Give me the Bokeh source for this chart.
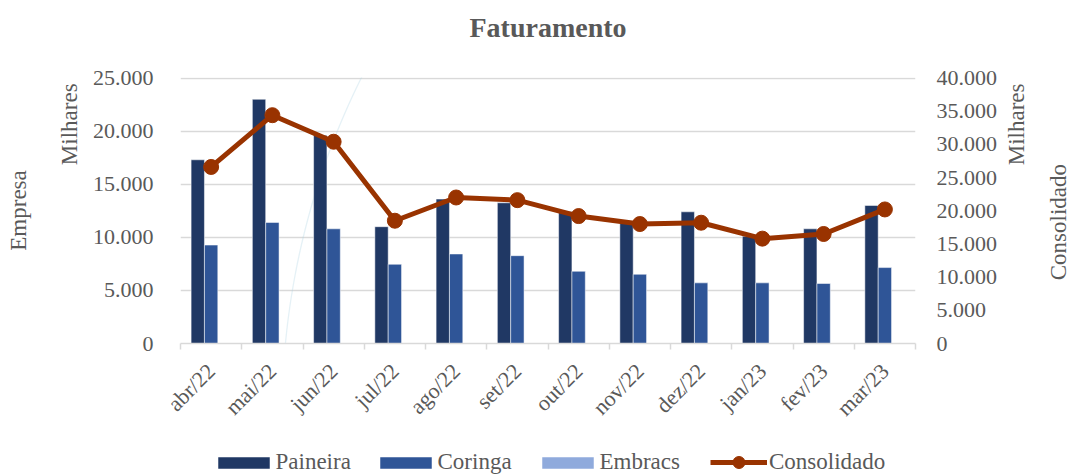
import math
from bokeh.plotting import figure
from bokeh.layouts import column
from bokeh.models import (Range1d, LinearAxis, FixedTicker, Legend, LegendItem,
                          ColumnDataSource, PolyAnnotation)
from bokeh.transform import dodge
from bokeh.embed import file_html
from bokeh.resources import INLINE

# ---------------- data ----------------
months = ["abr/22", "mai/22", "jun/22", "jul/22", "ago/22", "set/22",
          "out/22", "nov/22", "dez/22", "jan/23", "fev/23", "mar/23"]
paineira = [17300, 23000, 19600, 11000, 13600, 13250, 12400, 11450, 12400, 10100, 10800, 13000]
coringa = [9270, 11400, 10800, 7460, 8430, 8270, 6800, 6520, 5710, 5710, 5650, 7150]
embracs = [0, 0, 0, 0, 0, 0, 0, 0, 0, 0, 0, 0]
consolidado = [26600, 34400, 30400, 18500, 22000, 21600, 19200, 18000, 18200, 15800, 16500, 20200]

left_ticks = [0, 5000, 10000, 15000, 20000, 25000]
left_tick_labels = ["0", "5.000", "10.000", "15.000", "20.000", "25.000"]
right_ticks = [0, 5000, 10000, 15000, 20000, 25000, 30000, 35000, 40000]
right_tick_labels = ["0", "5.000", "10.000", "15.000", "20.000", "25.000",
                     "30.000", "35.000", "40.000"]

series_names = ["Paineira", "Coringa", "Embracs", "Consolidado"]
title_text = "Faturamento"
left_unit, left_title = "Milhares", "Empresa"
right_unit, right_title = "Milhares", "Consolidado"

# ---------------- style ----------------
FONT = "Liberation Serif"
TEXT = "#595959"
GRID = "#d9d9d9"
C_PAI = "#203864"
C_COR = "#2f5597"
C_EMB = "#8faadc"
C_CON = "#993300"
DECO = "#a9d2e2"
NB = "\u00a0"          # non-breaking space, used to slide axis titles along their axis

W = 1086
H_MAIN, H_LEG = 440, 35
FL, FT, FR, FB = 180, 77, 915, 343   # frame box in pixels
N = len(months)
YMAX_L = left_ticks[-1] * 1.002
YMAX_R = right_ticks[-1] * 1.002
NAN = float("nan")


def to_data(fx, fy):
    x = -0.5 + (fx - FL) / (FR - FL) * N
    y = (FB - fy) / (FB - FT) * YMAX_L
    return x, y


def set_if(obj, name, val):
    try:
        if name in obj.properties():
            setattr(obj, name, val)
    except ValueError:
        pass


p = figure(width=W, height=H_MAIN,
           x_range=Range1d(-0.5, N - 0.5), y_range=Range1d(0, YMAX_L),
           output_backend="svg", toolbar_location=None,
           min_border_left=FL, min_border_right=W - FR,
           min_border_top=FT, min_border_bottom=H_MAIN - FB,
           outline_line_color=None, background_fill_color="white",
           border_fill_color="white")
p.extra_y_ranges = {"cons": Range1d(0, YMAX_R)}

# ---------------- decorative background arc ----------------
pts = []
for i in range(81):
    yy = -10 + 480 * i / 80
    xx = 1039.5 - math.sqrt(max(758 ** 2 - (yy - 414.9) ** 2, 0))
    pts.append(to_data(xx, yy))
xs = [a for a, b in pts]
ys = [b for a, b in pts]
p.add_layout(PolyAnnotation(xs=xs + xs[::-1], ys=ys + ys[::-1],
                            fill_color=None, fill_alpha=0,
                            line_color=DECO, line_width=1.3, level="underlay"))

# ---------------- glyphs ----------------
src = ColumnDataSource(dict(x=list(range(N)), paineira=paineira, coringa=coringa,
                            embracs=embracs, consolidado=consolidado))
BW = 0.218
bar_kw = dict(width=BW, source=src, line_color="white", line_alpha=0.5, line_width=1)
p.vbar(x=dodge("x", -BW, range=p.x_range), top="paineira", fill_color=C_PAI, **bar_kw)
p.vbar(x=dodge("x", 0, range=p.x_range), top="coringa", fill_color=C_COR, **bar_kw)
p.vbar(x=dodge("x", BW, range=p.x_range), top="embracs", fill_color=C_EMB, **bar_kw)
p.line(x="x", y="consolidado", source=src, y_range_name="cons",
       line_color=C_CON, line_width=5)
p.scatter(x="x", y="consolidado", source=src, y_range_name="cons",
          size=15, fill_color=C_CON, line_color=C_CON)

# ---------------- grid / axes ----------------
p.xgrid.visible = False
p.ygrid.grid_line_color = GRID
p.ygrid.grid_line_width = 1.3


def style_text(ax, size="22px"):
    ax.major_label_text_font = FONT
    ax.major_label_text_font_size = size
    ax.major_label_text_color = TEXT
    ax.axis_label_text_font = FONT
    ax.axis_label_text_font_size = "23px"
    ax.axis_label_text_color = TEXT
    ax.axis_label_text_font_style = "normal"


def no_lines(ax):
    ax.axis_line_color = None
    ax.major_tick_line_color = None
    ax.minor_tick_line_color = None
    ax.major_tick_out = 0
    ax.major_tick_in = 0
    ax.minor_tick_out = 0
    ax.minor_tick_in = 0


xa = p.xaxis[0]
xa.ticker = FixedTicker(ticks=list(range(N)), minor_ticks=[i - 0.5 for i in range(N + 1)])
xa.major_label_overrides = {i: m for i, m in enumerate(months)}
xa.major_label_orientation = math.pi / 4
xa.major_tick_out = 0
xa.major_tick_in = 0
xa.minor_tick_out = 6
xa.minor_tick_in = 0
xa.minor_tick_line_color = GRID
xa.minor_tick_line_width = 1.5
xa.axis_line_color = GRID
xa.axis_line_width = 1.5
xa.major_label_standoff = 18
style_text(xa)

# left value axis + unit label (centred, lifted toward the top by leading spaces)
ya = p.yaxis[0]
ya.ticker = FixedTicker(ticks=left_ticks)
ya.major_label_overrides = {t: s for t, s in zip(left_ticks, left_tick_labels)}
no_lines(ya)
ya.major_label_standoff = 27
style_text(ya)
ya.axis_label = NB * 30 + left_unit
ya.axis_label_standoff = 8

# left title axis
ea = LinearAxis(ticker=FixedTicker(ticks=[]), axis_label=left_title)
no_lines(ea)
ea.major_label_standoff = 0
style_text(ea)
ea.axis_label_standoff = 23
p.add_layout(ea, "left")

# right value axis + unit label (starts at the bottom end, lifted by leading spaces)
ra = LinearAxis(y_range_name="cons", ticker=FixedTicker(ticks=right_ticks))
ra.major_label_overrides = {t: s for t, s in zip(right_ticks, right_tick_labels)}
no_lines(ra)
ra.major_label_standoff = 21
style_text(ra)
ra.axis_label = NB * 31 + right_unit
ra.axis_label_standoff = 16
set_if(ra, "axis_label_align", "start")
set_if(ra, "axis_label_orientation", math.pi / 2)
p.add_layout(ra, "right")

# right title axis
rb = LinearAxis(y_range_name="cons", ticker=FixedTicker(ticks=[]),
                axis_label=NB * 11 + right_title)
no_lines(rb)
rb.major_label_standoff = 0
style_text(rb)
rb.axis_label_standoff = 14
set_if(rb, "axis_label_align", "start")
set_if(rb, "axis_label_orientation", math.pi / 2)
p.add_layout(rb, "right")

# chart title, carried by an empty axis above the frame
ta = LinearAxis(ticker=FixedTicker(ticks=[]), axis_label=title_text)
no_lines(ta)
ta.major_label_standoff = 0
style_text(ta)
ta.axis_label_text_font_size = "28px"
ta.axis_label_text_font_style = "bold"
ta.axis_label_standoff = 35
p.add_layout(ta, "above")

# ---------------- legend strip (separate canvas under the chart) ----------------
q = figure(width=W, height=H_LEG, x_range=Range1d(0, 1), y_range=Range1d(0, 1),
           output_backend="svg", toolbar_location=None,
           x_axis_location=None, y_axis_location=None,
           min_border=0, outline_line_color=None,
           background_fill_color="white", border_fill_color="white")
q.xgrid.visible = False
q.ygrid.visible = False
# legend-only renderers (no drawable data)
g_pai = q.vbar(x=[NAN], top=[NAN], width=0.1, fill_color=C_PAI, line_color="white", line_alpha=0.5)
g_cor = q.vbar(x=[NAN], top=[NAN], width=0.1, fill_color=C_COR, line_color="white", line_alpha=0.5)
g_emb = q.vbar(x=[NAN], top=[NAN], width=0.1, fill_color=C_EMB, line_color="white", line_alpha=0.5)
g_lin = q.line(x=[NAN, NAN], y=[NAN, NAN], line_color=C_CON, line_width=5)
g_pts = q.scatter(x=[NAN], y=[NAN], fill_color=C_CON, line_color=C_CON)

LEG_CY = 462 - H_MAIN      # legend centre line, px from top of the strip


def add_legend(label, renderers, left_px, gw, gh, standoff, lh=26):
    h = max(gh, lh)
    vy = H_LEG - (LEG_CY + h / 2)
    lg = Legend(items=[LegendItem(label=label, renderers=renderers)],
                location=(left_px - FL, vy), orientation="horizontal",
                padding=0, margin=0, spacing=0, border_line_color=None,
                background_fill_alpha=0, glyph_width=gw, glyph_height=gh,
                label_standoff=standoff, label_height=lh,
                label_text_font=FONT, label_text_font_size="23px",
                label_text_color=TEXT)
    q.add_layout(lg, "center")


add_legend(series_names[0], [g_pai], 210.5, 65, 15, 0)
add_legend(series_names[1], [g_cor], 372.5, 65, 15, 0)
add_legend(series_names[2], [g_emb], 534.5, 65, 15, 0)
add_legend(series_names[3], [g_lin, g_pts], 710, 57, 30, 2)

open("out.html", "w").write(file_html(column(p, q, spacing=0), INLINE))
